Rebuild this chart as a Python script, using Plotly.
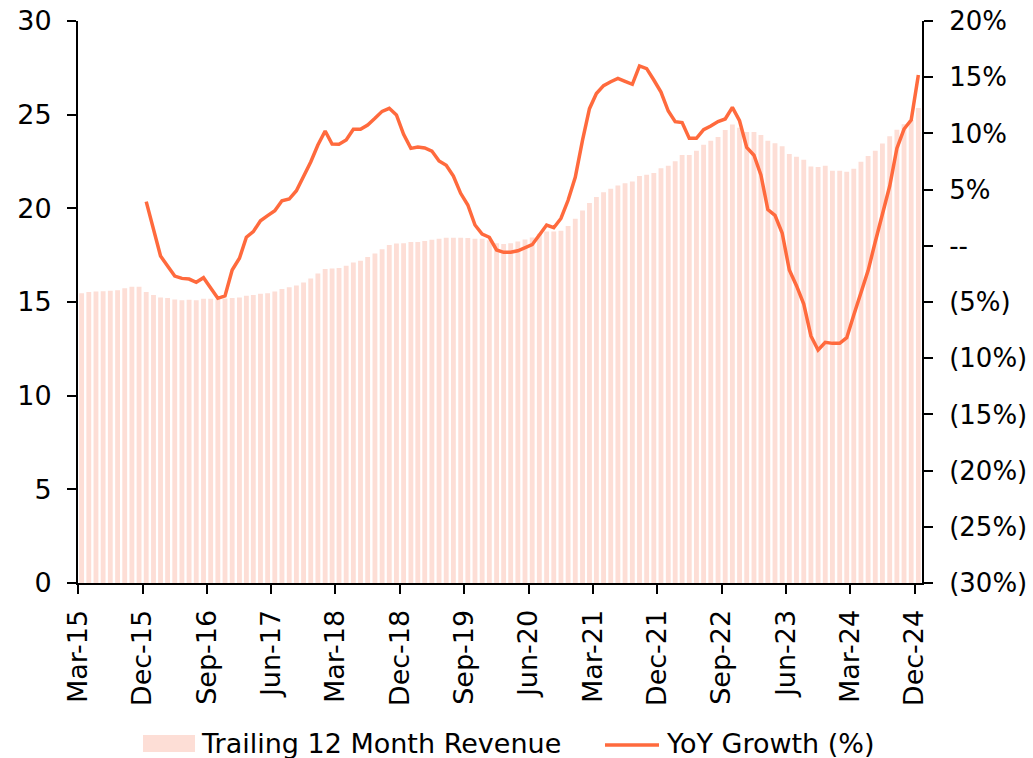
import pandas as pd
import plotly.graph_objects as go

# monthly periods, Mar-15 .. Dec-24
months = pd.date_range("2015-03-01", "2024-12-01", freq="MS")

# trailing 12 month revenue (left axis)
ttm_revenue = [
    15.47, 15.53, 15.56, 15.58, 15.60, 15.63, 15.74, 15.81, 15.81, 15.54,
    15.38, 15.24, 15.21, 15.13, 15.10, 15.12, 15.10, 15.17, 15.17, 15.15,
    15.19, 15.21, 15.24, 15.33, 15.38, 15.44, 15.47, 15.56, 15.69, 15.79,
    15.88, 16.04, 16.26, 16.52, 16.76, 16.79, 16.81, 16.93, 17.11, 17.20,
    17.40, 17.59, 17.82, 18.04, 18.12, 18.14, 18.20, 18.20, 18.25, 18.32,
    18.37, 18.43, 18.43, 18.43, 18.41, 18.37, 18.37, 18.30, 18.14, 18.10,
    18.14, 18.23, 18.34, 18.44, 18.64, 18.76, 18.76, 18.80, 19.06, 19.44,
    19.88, 20.28, 20.60, 20.86, 21.04, 21.22, 21.34, 21.43, 21.72, 21.79,
    21.89, 22.14, 22.27, 22.52, 22.85, 22.85, 23.07, 23.39, 23.61, 23.81,
    24.18, 24.48, 24.30, 24.07, 24.07, 23.92, 23.61, 23.48, 23.31, 22.90,
    22.75, 22.59, 22.23, 22.20, 22.27, 22.00, 22.00, 21.95, 22.11, 22.48,
    22.80, 23.07, 23.46, 23.85, 24.19, 24.49, 24.72, 25.35,
]

# YoY growth in % (right axis), starts Dec-15
yoy_growth = [None] * 9 + [
    3.93, 1.52, -0.91, -1.80, -2.69, -2.90, -2.96, -3.25, -2.84, -3.75,
    -4.67, -4.46, -2.15, -1.11, 0.76, 1.26, 2.23, 2.68, 3.12, 4.01,
    4.16, 4.90, 6.21, 7.46, 8.97, 10.21, 9.06, 9.03, 9.41, 10.36,
    10.36, 10.75, 11.34, 11.96, 12.23, 11.64, 9.92, 8.67, 8.79, 8.70,
    8.43, 7.54, 7.16, 6.21, 4.67, 3.63, 1.85, 1.05, 0.76, -0.37,
    -0.58, -0.58, -0.44, -0.20, 0.10, 0.96, 1.85, 1.61, 2.43, 4.05,
    6.10, 9.40, 12.20, 13.55, 14.25, 14.60, 14.90, 14.63, 14.37, 16.00,
    15.76, 14.75, 13.68, 11.99, 11.04, 10.96, 9.56, 9.56, 10.33, 10.65,
    11.06, 11.28, 12.32, 11.13, 8.76, 8.06, 6.30, 3.23, 2.71, 1.14,
    -2.15, -3.55, -5.18, -8.02, -9.27, -8.59, -8.68, -8.68, -8.18, -6.16,
    -4.23, -2.21, 0.36, 2.83, 5.32, 8.67, 10.39, 11.19, 15.20,
]

left_ticks = [0, 5, 10, 15, 20, 25, 30]
right_ticks = [20, 15, 10, 5, 0, -5, -10, -15, -20, -25, -30]
right_labels = ["20%", "15%", "10%", "5%", "--", "(5%)", "(10%)",
                "(15%)", "(20%)", "(25%)", "(30%)"]

BAR_COLOR = "#FDDED6"
LINE_COLOR = "#FF6A3D"
FONT = "DejaVu Sans"

W, H = 1033, 758
L, R, T, B = 78, 111, 21, 175


def px_x(x):
    return (x - L) / (W - L - R)


def px_y(y):
    return (H - B - y) / (H - T - B)


fig = go.Figure()
fig.add_trace(go.Bar(
    x=months, y=ttm_revenue,
    xperiod="M1", xperiodalignment="middle",
    name="Trailing 12 Month Revenue",
    marker=dict(color=BAR_COLOR, line=dict(width=0)),
))
fig.add_trace(go.Scatter(
    x=months, y=yoy_growth,
    xperiod="M1", xperiodalignment="middle",
    mode="lines", name="YoY Growth (%)",
    line=dict(color=LINE_COLOR, width=3.5),
    yaxis="y2",
))

axis_common = dict(showline=True, linecolor="black", linewidth=2,
                   ticks="outside", ticklen=9, tickwidth=2, tickcolor="black",
                   showgrid=False, zeroline=False, automargin=False,
                   ticklabeloverflow="allow")

# legend drawn by hand: wide swatches like the original
fig.add_shape(type="rect", xref="paper", yref="paper",
              x0=px_x(143), x1=px_x(195), y0=px_y(752), y1=px_y(735),
              fillcolor=BAR_COLOR, line=dict(width=0))
fig.add_shape(type="line", xref="paper", yref="paper",
              x0=px_x(605), x1=px_x(659), y0=px_y(745), y1=px_y(745),
              line=dict(color=LINE_COLOR, width=3.5))
fig.add_annotation(text="Trailing 12 Month Revenue", xref="paper", yref="paper",
                   x=px_x(199), y=px_y(743), xanchor="left", yanchor="middle",
                   showarrow=False, font=dict(size=27))
fig.add_annotation(text="YoY Growth (%)", xref="paper", yref="paper",
                   x=px_x(664), y=px_y(743), xanchor="left", yanchor="middle",
                   showarrow=False, font=dict(size=27))

fig.update_layout(
    width=W, height=H,
    margin=dict(l=L, r=R, t=T, b=B),
    paper_bgcolor="white", plot_bgcolor="white",
    font=dict(family=FONT, size=27, color="black"),
    bargap=0.3,
    showlegend=False,
    xaxis=dict(type="date", range=["2015-03-01", "2025-01-01"],
               tick0="2015-03-01", dtick="M9", tickformat="%b-%y",
               tickangle=-90, ticklabelstandoff=5, **axis_common),
    yaxis=dict(range=[0, 30], tickvals=left_ticks, ticklabelstandoff=10,
               **axis_common),
    yaxis2=dict(range=[-30, 20], overlaying="y", side="right",
                tickvals=right_ticks, ticktext=right_labels,
                ticklabelstandoff=11, tickfont=dict(size=26), **axis_common),
)

# drop the default 8px page margin so the figure fills the window
fig.write_html("out.html", config={"displayModeBar": False},
               post_script="document.body.style.margin = '0';")
